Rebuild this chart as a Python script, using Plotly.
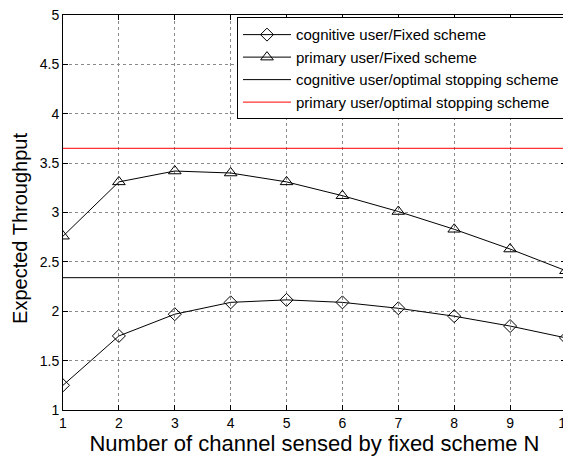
import plotly.graph_objects as go

N = [1, 2, 3, 4, 5, 6, 7, 8, 9, 10]
cog_fixed = [1.25, 1.75, 1.97, 2.09, 2.115, 2.09, 2.03, 1.95, 1.85, 1.73]
pri_fixed = [2.76, 3.31, 3.42, 3.40, 3.31, 3.17, 3.01, 2.83, 2.63, 2.41]
cog_opt = 2.34
pri_opt = 3.65

names = ["cognitive user/Fixed scheme", "primary user/Fixed scheme",
         "cognitive user/optimal stopping scheme", "primary user/optimal stopping scheme"]
x_title = "Number of channel sensed by fixed scheme N"
y_title = "Expected Throughput"

fig = go.Figure()
fig.add_trace(go.Scatter(x=N, y=cog_fixed, mode="lines+markers", name=names[0], legendgroup="a",
                         line=dict(color="black", width=1),
                         marker=dict(symbol="diamond-open", size=10, color="black", line=dict(width=1))))
fig.add_trace(go.Scatter(x=N, y=pri_fixed, mode="lines+markers", name=names[1], legendgroup="b",
                         line=dict(color="black", width=1),
                         marker=dict(symbol="triangle-up-open", size=11, color="black", line=dict(width=1))))
fig.add_trace(go.Scatter(x=[N[0], N[-1]], y=[cog_opt, cog_opt], mode="lines", name=names[2], legendgroup="c",
                         line=dict(color="black", width=1)))
fig.add_trace(go.Scatter(x=[N[0], N[-1]], y=[pri_opt, pri_opt], mode="lines", name=names[3], legendgroup="d",
                         line=dict(color="red", width=1)))

axis_common = dict(showline=True, linecolor="black", linewidth=1, mirror="ticks",
                   ticks="inside", ticklen=5, tickcolor="black",
                   showgrid=True, gridcolor="#8a8a8a", griddash="dot", gridwidth=1,
                   zeroline=False, ticklabeloverflow="allow", automargin=False,
                   tickfont=dict(family="Liberation Sans, Arial", size=14, color="black"))

fig.update_layout(
    width=563, height=450,
    paper_bgcolor="white", plot_bgcolor="white",
    margin=dict(l=55, r=5, t=7, b=48, autoexpand=False),
    font=dict(family="Liberation Sans, Arial", color="black"),
    xaxis=dict(range=[1, 10], dtick=1, title=dict(text=x_title, font=dict(size=22), standoff=4), **axis_common),
    yaxis=dict(range=[1, 5], dtick=0.5, **axis_common),
    legend=dict(x=0.998, xanchor="right", y=0.994, yanchor="top", bgcolor="white",
                bordercolor="black", borderwidth=1, font=dict(size=15),
                tracegroupgap=0, itemwidth=48),
    showlegend=True,
    annotations=[dict(text=y_title, xref="paper", yref="paper", x=-0.0855, y=0.461,
                      xanchor="center", yanchor="middle", textangle=-90, showarrow=False,
                      font=dict(size=20, color="black"))],
)

fig.write_html("out.html")
